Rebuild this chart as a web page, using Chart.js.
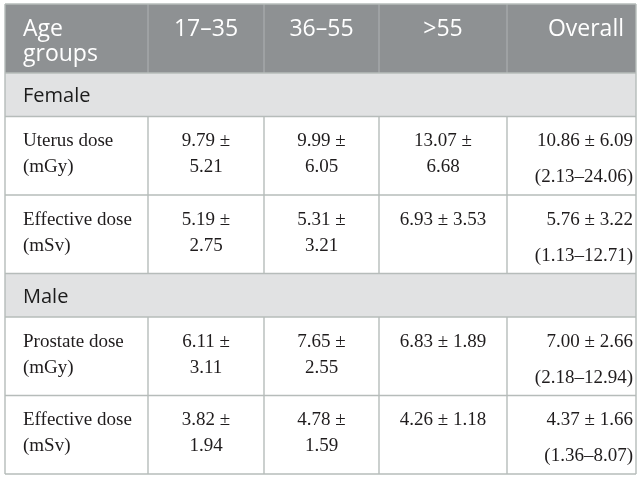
<!DOCTYPE html>
<html>
<head>
<meta charset="utf-8">
<script src="https://cdn.jsdelivr.net/npm/chart.js@4.4.1/dist/chart.umd.min.js"></script>
<style>
  body { margin: 0; background: #fff; }
  #caixa { width: 642px; height: 479px; position: relative; }
</style>
</head>
<body>
<div id="caixa"><canvas id="tabela"></canvas></div>
<script>
// DADOS DA TABELA
const ageGroups = ['17–35', '36–55', '>55', 'Overall']
const headLabel = ['Age', 'groups']
const sexes = ['Female', 'Male']
const measures = [
    ['Uterus dose', '(mGy)'],
    ['Effective dose', '(mSv)'],
    ['Prostate dose', '(mGy)'],
    ['Effective dose', '(mSv)']
]
const measureSex = [0, 0, 1, 1]
const means = [
    [9.79, 9.99, 13.07, 10.86],
    [5.19, 5.31, 6.93, 5.76],
    [6.11, 7.65, 6.83, 7.00],
    [3.82, 4.78, 4.26, 4.37]
]
const sds = [
    [5.21, 6.05, 6.68, 6.09],
    [2.75, 3.21, 3.53, 3.22],
    [3.11, 2.55, 1.89, 2.66],
    [1.94, 1.59, 1.18, 1.66]
]
const rangeMin = [2.13, 1.13, 2.18, 1.36]
const rangeMax = [24.06, 12.71, 12.94, 8.07]

// layout (unidades do eixo)
const colEdges = [5, 148, 264, 379, 507, 636]
const topY = 4
const headH = 69
const secH = 43.5
const rowH = 78.5

const serif = '"Liberation Serif", "Times New Roman", serif'
const sans = '"Open Sans", Lato, sans-serif'

// monta a lista de linhas a partir dos dados
function buildRows() {
    const rows = []
    let y = topY + headH
    sexes.forEach((s, si) => {
        rows.push({ kind: 'sec', label: s, top: y, bot: y + secH })
        y += secH
        measureSex.forEach((ms, mi) => {
            if (ms !== si) return
            rows.push({ kind: 'val', idx: mi, top: y, bot: y + rowH })
            y += rowH
        })
    })
    return rows
}

const tablePlugin = {
    id: 'tabela',
    afterDraw(chart) {
        const ctx = chart.ctx
        const X = v => chart.scales.x.getPixelForValue(v)
        const Y = v => chart.scales.y.getPixelForValue(v)
        const left = X(colEdges[0]), right = X(colEdges[colEdges.length - 1])
        const rows = buildRows()
        const bottom = Y(rows[rows.length - 1].bot)

        ctx.save()
        // header
        ctx.fillStyle = '#8e9193'
        ctx.fillRect(left, Y(topY), right - left, Y(topY + headH) - Y(topY))
        rows.forEach(r => {
            if (r.kind === 'sec') {
                ctx.fillStyle = '#e1e2e3'
                ctx.fillRect(left, Y(r.top), right - left, Y(r.bot) - Y(r.top))
            }
        })

        // linhas
        ctx.lineWidth = 1.4
        ctx.strokeStyle = '#a6a9ab'
        for (let c = 1; c < colEdges.length - 1; c++) {
            ctx.beginPath()
            ctx.moveTo(X(colEdges[c]), Y(topY))
            ctx.lineTo(X(colEdges[c]), Y(topY + headH))
            ctx.stroke()
        }
        ctx.strokeStyle = '#b6bcba'
        rows.forEach(r => {
            if (r.kind !== 'val') return
            for (let c = 1; c < colEdges.length - 1; c++) {
                ctx.beginPath()
                ctx.moveTo(X(colEdges[c]), Y(r.top))
                ctx.lineTo(X(colEdges[c]), Y(r.bot))
                ctx.stroke()
            }
        })
        const hLines = [topY, topY + headH].concat(rows.map(r => r.bot))
        hLines.forEach(v => {
            ctx.beginPath()
            ctx.moveTo(left, Y(v))
            ctx.lineTo(right, Y(v))
            ctx.stroke()
        })
        ctx.beginPath()
        ctx.moveTo(left, Y(topY)); ctx.lineTo(left, bottom)
        ctx.moveTo(right, Y(topY)); ctx.lineTo(right, bottom)
        ctx.stroke()

        // texto do cabeçalho
        ctx.textBaseline = 'middle'
        ctx.fillStyle = '#ffffff'
        ctx.font = '23px ' + sans
        ctx.textAlign = 'left'
        ctx.fillText(headLabel[0], X(colEdges[0] + 18), Y(topY + 25))
        ctx.fillText(headLabel[1], X(colEdges[0] + 18), Y(topY + 50))
        ageGroups.forEach((g, i) => {
            if (i === ageGroups.length - 1) {
                ctx.textAlign = 'right'
                ctx.fillText(g, X(colEdges[i + 2] - 12), Y(topY + 25))
            } else {
                ctx.textAlign = 'center'
                ctx.fillText(g, (X(colEdges[i + 1]) + X(colEdges[i + 2])) / 2, Y(topY + 25))
            }
        })

        // corpo
        rows.forEach(r => {
            if (r.kind === 'sec') {
                ctx.fillStyle = '#1c1c1c'
                ctx.font = '20px ' + sans
                ctx.textAlign = 'left'
                ctx.fillText(r.label, X(colEdges[0] + 18), Y((r.top + r.bot) / 2 + 2))
                return
            }
            const m = r.idx
            ctx.fillStyle = '#1f1c1d'
            ctx.font = '19px ' + serif
            ctx.textAlign = 'left'
            ctx.fillText(measures[m][0], X(colEdges[0] + 18), Y(r.top + 25))
            ctx.fillText(measures[m][1], X(colEdges[0] + 18), Y(r.top + 51))
            for (let c = 0; c < ageGroups.length; c++) {
                const mean = means[m][c].toFixed(2), sd = sds[m][c].toFixed(2)
                const x0 = X(colEdges[c + 1]), x1 = X(colEdges[c + 2])
                if (c === ageGroups.length - 1) {
                    ctx.textAlign = 'right'
                    ctx.fillText(mean + ' ± ' + sd, x1 - 3, Y(r.top + 25))
                    ctx.fillText('(' + rangeMin[m].toFixed(2) + '–' + rangeMax[m].toFixed(2) + ')', x1 - 3, Y(r.top + 61))
                    continue
                }
                ctx.textAlign = 'center'
                const cx = (x0 + x1) / 2
                const one = mean + ' ± ' + sd
                if (ctx.measureText(one).width > (x1 - x0) - 34) {
                    ctx.fillText(mean + ' ±', cx, Y(r.top + 25))
                    ctx.fillText(sd, cx, Y(r.top + 51))
                } else {
                    ctx.fillText(one, cx, Y(r.top + 25))
                }
            }
        })
        ctx.restore()
    }
}

const tb = document.getElementById('tabela').getContext('2d')

const config = {
    type: 'scatter',
    data: { datasets: [] },
    options: {
        responsive: true,
        maintainAspectRatio: false,
        animation: false,
        layout: { padding: 0 },
        plugins: { legend: { display: false }, tooltip: { enabled: false } },
        scales: {
            x: { type: 'linear', min: 0, max: 642, display: false },
            y: { type: 'linear', min: 0, max: 479, reverse: true, display: false }
        }
    },
    plugins: [tablePlugin]
}

const minhaTabela = new Chart(tb, config)
</script>
</body>
</html>
